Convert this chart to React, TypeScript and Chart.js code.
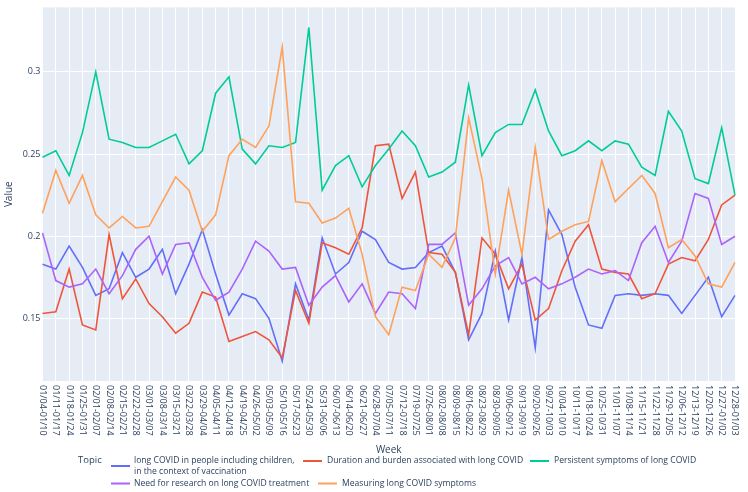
import React, { useEffect, useRef } from "react";
import { Chart, registerables } from "chart.js";

Chart.register(...registerables);

const weeks: string[] = [
  "01/04-01/10", "01/11-01/17", "01/18-01/24", "01/25-01/31", "02/01-02/07", "02/08-02/14",
  "02/15-02/21", "02/22-02/28", "03/01-03/07", "03/08-03/14", "03/15-03/21", "03/22-03/28",
  "03/29-04/04", "04/05-04/11", "04/12-04/18", "04/19-04/25", "04/26-05/02", "05/03-05/09",
  "05/10-05/16", "05/17-05/23", "05/24-05/30", "05/31-06/06", "06/07-06/13", "06/14-06/20",
  "06/21-06/27", "06/28-07/04", "07/05-07/11", "07/12-07/18", "07/19-07/25", "07/26-08/01",
  "08/02-08/08", "08/09-08/15", "08/16-08/22", "08/23-08/29", "08/30-09/05", "09/06-09/12",
  "09/13-09/19", "09/20-09/26", "09/27-10/03", "10/04-10/10", "10/11-10/17", "10/18-10/24",
  "10/25-10/31", "11/01-11/07", "11/08-11/14", "11/15-11/21", "11/22-11/28", "11/29-12/05",
  "12/06-12/12", "12/13-12/19", "12/20-12/26", "12/27-01/02", "12/28-01/03",
];

const topicNames: string[][] = [
  ["long COVID in people including children,", "in the context of vaccination"],
  ["Duration and burden associated with long COVID"],
  ["Persistent symptoms of long COVID"],
  ["Need for research on long COVID treatment"],
  ["Measuring long COVID symptoms"],
];

const childrenVaccination: number[] = [
  0.183, 0.180, 0.194, 0.181, 0.164, 0.168, 0.190, 0.175, 0.180, 0.192, 0.165, 0.183,
  0.204, 0.177, 0.152, 0.165, 0.162, 0.150, 0.124, 0.171, 0.149, 0.199, 0.177, 0.184,
  0.203, 0.198, 0.184, 0.180, 0.181, 0.190, 0.194, 0.178, 0.137, 0.153, 0.191, 0.149,
  0.187, 0.132, 0.216, 0.201, 0.169, 0.146, 0.144, 0.164, 0.165, 0.164, 0.165, 0.164,
  0.153, 0.164, 0.175, 0.151, 0.164,
];

const durationBurden: number[] = [
  0.153, 0.154, 0.180, 0.146, 0.143, 0.201, 0.162, 0.174, 0.159, 0.151, 0.141, 0.147,
  0.166, 0.163, 0.136, 0.139, 0.142, 0.137, 0.126, 0.167, 0.147, 0.196, 0.193, 0.189,
  0.205, 0.255, 0.256, 0.223, 0.239, 0.190, 0.189, 0.178, 0.140, 0.199, 0.189, 0.168,
  0.183, 0.149, 0.156, 0.179, 0.197, 0.207, 0.180, 0.178, 0.177, 0.162, 0.165, 0.183,
  0.187, 0.185, 0.198, 0.219, 0.225,
];

const persistentSymptoms: number[] = [
  0.248, 0.252, 0.237, 0.263, 0.300, 0.259, 0.257, 0.254, 0.254, 0.258, 0.262, 0.244,
  0.252, 0.287, 0.297, 0.253, 0.244, 0.255, 0.254, 0.257, 0.327, 0.228, 0.243, 0.249,
  0.230, 0.243, 0.253, 0.264, 0.255, 0.236, 0.239, 0.245, 0.292, 0.249, 0.263, 0.268,
  0.268, 0.289, 0.264, 0.249, 0.252, 0.258, 0.252, 0.258, 0.256, 0.242, 0.237, 0.276,
  0.264, 0.235, 0.232, 0.266, 0.225,
];

const researchTreatment: number[] = [
  0.202, 0.173, 0.169, 0.171, 0.180, 0.165, 0.176, 0.192, 0.200, 0.177, 0.195, 0.196,
  0.175, 0.161, 0.166, 0.180, 0.197, 0.191, 0.180, 0.181, 0.158, 0.169, 0.176, 0.160,
  0.171, 0.153, 0.166, 0.165, 0.156, 0.195, 0.195, 0.202, 0.158, 0.168, 0.182, 0.187,
  0.171, 0.175, 0.168, 0.171, 0.175, 0.180, 0.177, 0.179, 0.173, 0.196, 0.206, 0.184,
  0.197, 0.226, 0.223, 0.195, 0.200,
];

const measuringSymptoms: number[] = [
  0.214, 0.240, 0.220, 0.237, 0.213, 0.205, 0.212, 0.205, 0.206, 0.221, 0.236, 0.228,
  0.203, 0.213, 0.249, 0.259, 0.254, 0.267, 0.315, 0.221, 0.220, 0.208, 0.211, 0.217,
  0.189, 0.151, 0.140, 0.169, 0.167, 0.189, 0.181, 0.199, 0.272, 0.235, 0.177, 0.228,
  0.189, 0.254, 0.198, 0.203, 0.207, 0.209, 0.246, 0.221, 0.229, 0.237, 0.226, 0.193,
  0.198, 0.188, 0.171, 0.169, 0.184,
];

const yTicks: number[] = [0.15, 0.2, 0.25, 0.3];
const yMin = 0.1119;
const yMax = 0.3392;

const colors = ["#636efa", "#EF553B", "#00cc96", "#ab63fa", "#FFA15A"];
const seriesValues = [childrenVaccination, durationBurden, persistentSymptoms, researchTreatment, measuringSymptoms];

const FONT = '"Open Sans", verdana, arial, sans-serif';
const TEXT = "#2a3f5f";
const PLOT_BG = "#E5ECF6";

// legend layout: [swatchX, swatchY, textX, textY]
const legendLayout: number[][] = [
  [111, 466, 134, 461],
  [303, 461, 327, 461],
  [530, 461, 554, 461],
  [111, 483.5, 134, 483.5],
  [318, 483.5, 342, 483.5],
];

const plotlyLook = {
  id: "plotlyLook",
  beforeDraw(chart: any) {
    const { ctx, chartArea } = chart;
    ctx.save();
    ctx.fillStyle = PLOT_BG;
    ctx.fillRect(chartArea.left, chartArea.top, chartArea.right - chartArea.left, chartArea.bottom - chartArea.top);
    ctx.restore();
  },
  afterDraw(chart: any) {
    const { ctx, chartArea, scales } = chart;
    const xs = scales.x;
    ctx.save();
    ctx.fillStyle = TEXT;
    ctx.font = `9px ${FONT}`;
    ctx.textAlign = "left";
    ctx.textBaseline = "middle";
    weeks.forEach((w, i) => {
      const px = xs.getPixelForValue(i);
      ctx.save();
      ctx.translate(px, chartArea.bottom + 4);
      ctx.rotate(Math.PI / 2);
      ctx.fillText(w, 0, 0);
      ctx.restore();
    });
    ctx.font = `10px ${FONT}`;
    ctx.textAlign = "center";
    ctx.fillText("Week", (chartArea.left + chartArea.right) / 2, 450);
    ctx.save();
    ctx.translate(9, (chartArea.top + chartArea.bottom) / 2);
    ctx.rotate(-Math.PI / 2);
    ctx.fillText("Value", 0, 0);
    ctx.restore();

    ctx.font = `9.5px ${FONT}`;
    ctx.textAlign = "left";
    ctx.fillText("Topic", 78, 460.5);
    ctx.font = `8.6px ${FONT}`;
    topicNames.forEach((lines, i) => {
      const [sx, sy, tx, ty] = legendLayout[i];
      ctx.strokeStyle = colors[i];
      ctx.lineWidth = 2;
      ctx.beginPath();
      ctx.moveTo(sx, sy);
      ctx.lineTo(sx + 19, sy);
      ctx.stroke();
      ctx.fillStyle = TEXT;
      lines.forEach((ln, j) => ctx.fillText(ln, tx, ty + j * 10.3));
    });
    ctx.restore();
  },
};

export default function App() {
  const canvasRef = useRef<HTMLCanvasElement | null>(null);

  useEffect(() => {
    const canvas = canvasRef.current;
    if (!canvas) return;
    const chart = new Chart(canvas, {
      type: "line",
      data: {
        labels: weeks,
        datasets: seriesValues.map((vals, i) => ({
          label: topicNames[i].join(" "),
          data: vals,
          borderColor: colors[i],
          backgroundColor: colors[i],
          borderWidth: 1.6,
          pointRadius: 0,
          tension: 0,
          fill: false,
          order: seriesValues.length - i,
        })),
      },
      options: {
        responsive: false,
        animation: false,
        layout: { padding: { left: 0, top: 6, right: 13, bottom: 111 } },
        plugins: { legend: { display: false }, tooltip: { enabled: false } },
        scales: {
          x: {
            type: "category",
            offset: false,
            grid: { color: "#ffffff", lineWidth: 1, drawTicks: false },
            border: { display: false },
            ticks: { display: false },
            afterFit: (s: any) => { s.height = 0; },
          },
          y: {
            min: yMin,
            max: yMax,
            grid: { color: "#ffffff", lineWidth: 1, drawTicks: false },
            border: { display: false },
            ticks: {
              color: TEXT,
              font: { family: FONT, size: 9 },
              padding: 2,
              callback: (v: any) => String(Number(v)),
            },
            afterBuildTicks: (s: any) => { s.ticks = yTicks.map((v) => ({ value: v })); },
            afterFit: (s: any) => { s.width = 42.5; },
          },
        },
      },
      plugins: [plotlyLook],
    });
    return () => chart.destroy();
  }, []);

  return (
    <div style={{ position: "fixed", left: 0, top: 0, width: 748, height: 492, background: "#fff" }}>
      <canvas ref={canvasRef} width={748} height={492} style={{ display: "block", width: 748, height: 492 }} />
    </div>
  );
}
